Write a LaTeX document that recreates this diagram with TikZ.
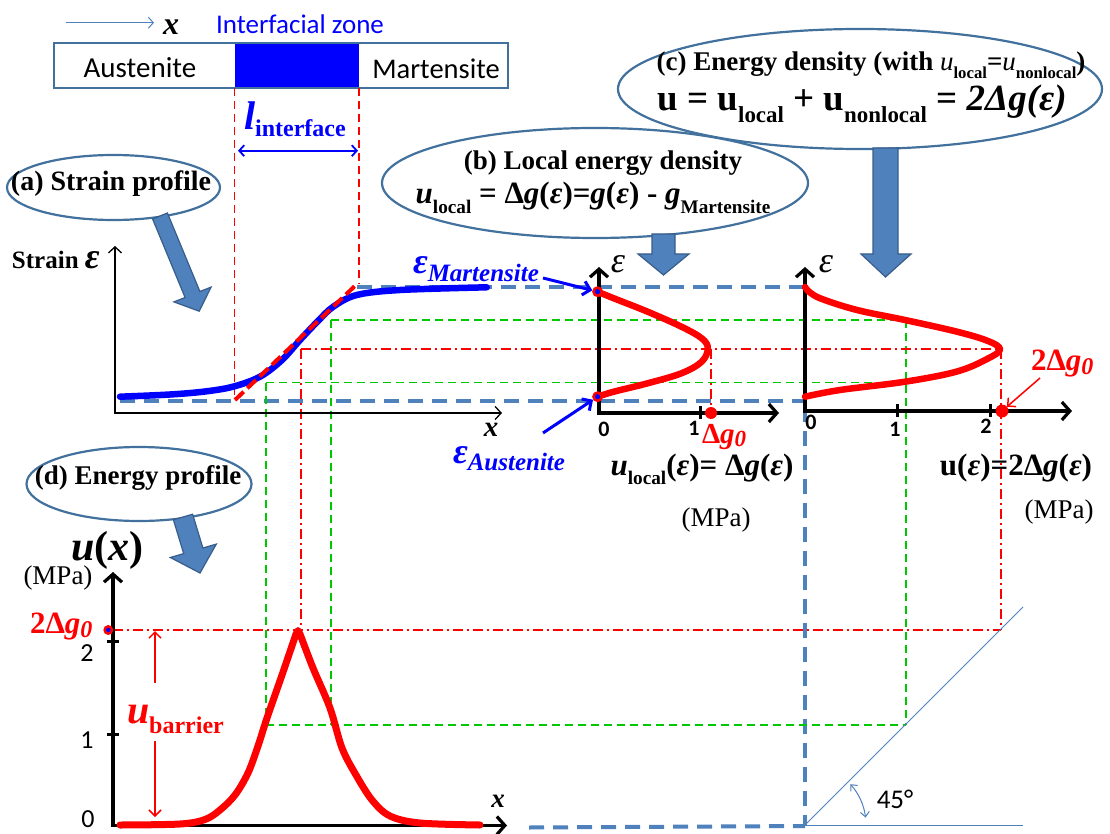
\documentclass[tikz,border=0pt]{standalone}
\usepackage{fontspec}
\usepackage{graphicx}
\setmainfont{Liberation Serif}
\newfontfamily\calib{Carlito}
\usetikzlibrary{arrows.meta,shapes.geometric}
\definecolor{ellc}{HTML}{41719C}
\definecolor{arrf}{HTML}{4F81BD}
\definecolor{arrd}{HTML}{385D8A}
\definecolor{zblue}{HTML}{0000FF}
\definecolor{gline}{HTML}{00C800}
\newcommand{\dn}[2][0.3em]{\raisebox{-#1}{\scalebox{0.62}{#2}}}
\newcommand{\fsz}[1]{\fontsize{#1}{#1}\selectfont}
\newcommand{\bi}[1]{{\bfseries\itshape #1}}
\begin{document}
\begin{tikzpicture}[x=1pt,y=-1pt,
  ellipsebox/.style={draw=ellc, line width=2.2pt, shape=ellipse, inner sep=0pt},
  blockarrow/.style={fill=arrf, draw=arrd, line width=1.2pt, line join=miter},
  bdash/.style={draw=arrf, line width=4pt, dash pattern=on 15pt off 9pt},
  gdash/.style={draw=gline, line width=1.6pt, dash pattern=on 8pt off 5pt},
  rdd/.style={draw=red, line width=1.8pt, dash pattern=on 10pt off 4pt on 2pt off 4pt},
  rdash/.style={draw=red, line width=1.6pt, dash pattern=on 8pt off 5pt},
  thinax/.style={draw=black, line width=1.3pt, {Straight Barb[length=6pt,width=13pt]}-{Straight Barb[length=6pt,width=13pt]}},
  thickax/.style={draw=black, line width=3.2pt, line join=miter, {Straight Barb[length=8pt,width=18pt]}-{Straight Barb[length=8pt,width=18pt]}},
  rcurve/.style={draw=red, line width=6.5pt, line cap=round, line join=round},
  lbl/.style={inner sep=0pt, outer sep=0pt},
  dotr/.style={circle, fill=red, inner sep=0pt, outer sep=0pt},
  tinyarr/.style={line width=1.5pt, -{Straight Barb[length=6pt,width=12pt]}},
]
\useasboundingbox (0,0) rectangle (1110,834);
\fill[white] (0,0) rectangle (1110,834);

% ---------------- top bar
\node[lbl, fill=zblue, minimum width=124.4pt, minimum height=45pt] (zone) at (296.8,65.8) {};
\node[lbl, draw=ellc, line width=2pt, minimum width=454.5pt, minimum height=45pt] (bar) at (280.75,65.8) {};
\node[lbl, font=\calib\fsz{29}] (aus) at (140,68) {Austenite};
\node[lbl, font=\calib\fsz{28.5}] (mar) at (436,69) {Martensite};
\node[lbl, font=\calib\fsz{27}, text=zblue] (izone) at (300,24) {Interfacial zone};
\coordinate (xa0) at (66,22.7);
\coordinate (xa1) at (154,22.7);
\draw[arrf, line width=1pt, -{Straight Barb[length=5pt,width=11pt]}] (xa0) -- (xa1);
\node[lbl, font=\fsz{32}\bfseries\itshape] (xtop) at (171,27) {x};

% interface lines
\coordinate (il0) at (234.6,88.3);
\coordinate (il1) at (234.6,399);
\coordinate (ir0) at (359,88.3);
\coordinate (ir1) at (359,284);
\draw[rdash] (il0) -- (il1);
\draw[rdash] (ir0) -- (ir1);
\node[lbl, anchor=base west, text=zblue] (lint) at (244,130) {\fsz{40}\bfseries\itshape l\upshape\raisebox{-7pt}{\fsz{24}interface}};
\coordinate (da0) at (238,150.7);
\coordinate (da1) at (358,150.7);
\draw[zblue, line width=1.8pt, {Straight Barb[length=5pt,width=11pt]}-{Straight Barb[length=5pt,width=11pt]}] (da0) -- (da1);

% ---------------- guide lines
\coordinate (bd0) at (120,400.5);
\coordinate (bd1) at (805,400.5);
\coordinate (bt0) at (357,287);
\coordinate (bt1) at (805,287);
\coordinate (bv1) at (805,826);
\coordinate (bb0) at (529,827.5);
\draw[bdash] (bd0) -- (bd1);
\draw[bdash] (bt0) -- (bt1);
\draw[bdash] (bt1) -- (bv1);
\draw[bdash] (bb0) -- (bv1);

\coordinate (g1a) at (331,320);
\coordinate (g1b) at (906,320);
\coordinate (g2a) at (266,382.5);
\coordinate (g2b) at (906,382.5);
\coordinate (g3a) at (266,725);
\coordinate (g3b) at (906,725);
\coordinate (g4a) at (331,725);
\draw[gdash] (g1a) -- (g1b);
\draw[gdash] (g2a) -- (g2b);
\draw[gdash] (g3a) -- (g3b);
\draw[gdash] (g2a) -- (g3a);
\draw[gdash] (g1a) -- (g4a);
\draw[gdash] (g1b) -- (g3b);

\coordinate (r1a) at (301,349);
\coordinate (r1b) at (1001,349);
\coordinate (r2a) at (301,626);
\coordinate (r3a) at (711,349);
\coordinate (r3b) at (711,413);
\coordinate (r4b) at (1001,630);
\coordinate (r5a) at (113,630);
\draw[rdd] (r1a) -- (r1b);
\draw[rdd] (r1a) -- (r2a);
\draw[rdd] (r3a) -- (r3b);
\draw[rdd] (r1b) -- (r4b);
\draw[rdd] (r5a) -- (r4b);

% 45 degree construction
\coordinate (o45) at (805,825);
\coordinate (t45) at (1023,607);
\coordinate (h45) at (1023,825);
\draw[arrf, line width=1pt] (o45) -- (t45);
\draw[arrf, line width=1pt] (o45) -- (h45);
\draw[arrf, line width=1pt, {Straight Barb[length=5pt,width=9pt]}-{Straight Barb[length=5pt,width=9pt]}] (o45) ++(-42:61) arc[start angle=-42, end angle=-7, radius=61];
\node[lbl, font=\calib\fsz{27}] (a45) at (895,799) {45°};

% ---------------- (a) strain profile
\node[ellipsebox, minimum width=213pt, minimum height=65pt] (ea) at (113.5,187.5) {};
\node[lbl, font=\fsz{28}\bfseries] (eat) at (111,184) {(a) Strain profile};
\draw[blockarrow] (167.4,213) -- (199.9,291.5) -- (211.1,287.1) -- (199.2,311.2) -- (173.9,301.9) -- (185.1,297.5) -- (152.6,219) -- cycle;

\coordinate (sa0) at (115,413);
\coordinate (say) at (115,246);
\coordinate (sax) at (502,413);
\draw[thinax] (say) -- (sa0) -- (sax);
\node[lbl, anchor=base west] (strain) at (12,269) {\fsz{25}\bfseries Strain \fsz{36}\itshape ε};
\node[lbl, font=\fsz{29}\bfseries\itshape] (xs) at (491,430) {x};

\draw[zblue, line width=6.5pt, line cap=round] plot[smooth, tension=0.55] coordinates {(120,396.7) (170,394.5) (205,391.5) (233,386.7) (260,376.7) (282,360) (300,340) (318,321) (333.3,306.7) (356.7,295) (400,290) (486.7,287.3)};
\coordinate (tg0) at (235,400);
\coordinate (tg1) at (358,283);
\draw[red, line width=4pt, dash pattern=on 12pt off 5pt] (tg0) -- (tg1);

\node[lbl, anchor=base west, text=zblue] (emlab) at (413,273) {\fsz{36}\bfseries\itshape ε\raisebox{-8pt}{\fsz{25}Martensite}};
\node[lbl, anchor=base west, text=zblue] (ealab) at (453,463) {\fsz{36}\bfseries\itshape ε\raisebox{-7pt}{\fsz{25}Austenite}};

% ---------------- (b) local energy density
\node[ellipsebox, minimum width=484pt, minimum height=120pt] (ec) at (860,89) {};
\node[ellipsebox, minimum width=426pt, minimum height=110pt] (eb) at (595,183) {};
\node[lbl, font=\fsz{27}\bfseries] (ebt1) at (603,163) {(b) Local energy density};
\node[lbl, anchor=base, font=\fsz{31}\bfseries] (ebt2) at (593,204) {\bi{u}\dn{local} = Δ\bi{g}(\bi{ε})=\bi{g}(\bi{ε}) - \bi{g}\dn{Martensite}};
\draw[blockarrow] (652,234) -- (675,234) -- (675,254) -- (689,254) -- (663.5,275) -- (638,254) -- (652,254) -- cycle;

\coordinate (b0) at (599,413);
\coordinate (by) at (599,267);
\coordinate (bx) at (779,413);
\draw[thickax] (by) -- (b0) -- (bx);
\draw[line width=3pt] (700,406) -- (700,419);
\node[lbl, font=\calib\fsz{22}\bfseries] (b0l) at (604,429) {0};
\node[lbl, font=\calib\fsz{22}\bfseries] (b1l) at (694,428) {1};
\node[lbl, font=\fsz{36}\itshape] (bel) at (618,264) {ε};
\draw[rcurve] plot[smooth, tension=0.6] coordinates {(597.6,291.7) (613.8,298.3) (647.6,311.7) (681.4,326.7) (701.7,338.3) (707.8,348.3) (701.7,361.7) (681.4,373.3) (647.6,383.3) (613.8,391.7) (597.6,396.7)};
\node[dotr, minimum size=11pt] (em) at (597.6,291.7) {};
\node[dotr, minimum size=11pt] (eaus) at (597.6,396.7) {};
\fill[zblue] (em) circle[radius=2.6pt];
\fill[zblue] (eaus) circle[radius=2.6pt];
\coordinate (emA) at (543,278);
\coordinate (eaA) at (543,433);
\draw[zblue, line width=3pt, -{Straight Barb[length=7pt,width=14pt]}] (emA) -- (em);
\draw[zblue, line width=3pt, -{Straight Barb[length=7pt,width=14pt]}] (eaA) -- (eaus);
\node[dotr, minimum size=12pt] (bdot) at (711,413) {};
\node[lbl, anchor=base west, text=red, font=\fsz{29}\bfseries] (bdg) at (702,443) {Δ\itshape g\raisebox{-3pt}{\fsz{23}0}};
\node[lbl, anchor=base, font=\fsz{31}\bfseries] (bul) at (702,475) {\bi{u}\dn{local}(\bi{ε})= Δ\bi{g}(\bi{ε})};
\node[lbl, font=\fsz{27}] (bmpa) at (716,520) {(MPa)};

% ---------------- (c) energy density
\node[lbl, font=\fsz{27}\bfseries] (ect1) at (871,65) {(c) Energy density (with {\mdseries\itshape u}\dn{local}={\mdseries\itshape u}\dn{nonlocal})};
\node[lbl, anchor=base, font=\fsz{37}\bfseries] (ect2) at (862,111) {u = u\dn{local} + u\dn{nonlocal} = \itshape 2Δg(ε)};
\draw[blockarrow] (873,148) -- (898,148) -- (898,254) -- (911,254) -- (885.5,277) -- (861,254) -- (873,254) -- cycle;

\coordinate (c0) at (805,411);
\coordinate (cy) at (805,267);
\coordinate (cx) at (1072,411);
\draw[thickax] (cy) -- (c0) -- (cx);
\draw[line width=3pt] (897,404) -- (897,417);
\draw[line width=3pt] (990,404) -- (990,417);
\node[lbl, font=\calib\fsz{22}\bfseries] (c0l) at (811,422) {0};
\node[lbl, font=\calib\fsz{22}\bfseries] (c1l) at (895,429) {1};
\node[lbl, font=\calib\fsz{22}\bfseries] (c2l) at (986,426) {2};
\node[lbl, font=\fsz{36}\itshape] (cel) at (826,264) {ε};
\draw[rcurve] plot[smooth, tension=0.6] coordinates {(805,287) (810,292.5) (822,299) (857,310) (905,320) (957,331.7) (988,341) (1000,349.3) (988,358.5) (957,371.5) (905,381.7) (840,390) (805,396.7)};
\node[dotr, minimum size=13pt] (cdot) at (1002,411) {};
\node[lbl, anchor=base west, text=red, font=\fsz{31}\bfseries] (cdg) at (1031,370) {2Δ\itshape g\raisebox{-4pt}{\fsz{24}0}};
\coordinate (cdA) at (1040,378);
\draw[red, tinyarr] (cdA) -- (cdot);
\node[lbl, anchor=base, font=\fsz{31}\bfseries] (cul) at (1016,475) {u(\bi{ε})=2Δ\bi{g}(\bi{ε})};
\node[lbl, font=\fsz{27}] (cmpa) at (1059,512) {(MPa)};

% ---------------- (d) energy profile
\node[ellipsebox, minimum width=225pt, minimum height=74pt] (ed) at (139,484) {};
\node[lbl, font=\fsz{27}\bfseries] (edt) at (138,478) {(d) Energy profile};
\draw[blockarrow] (192.6,514.2) -- (202.9,548) -- (216.3,544.1) -- (200,573) -- (170.3,557.5) -- (183.7,553.6) -- (173.4,519.8) -- cycle;

\coordinate (d0) at (113,825.5);
\coordinate (dy) at (113,572);
\coordinate (dx) at (507,825.5);
\draw[thickax] (dy) -- (d0) -- (dx);
\draw[line width=3pt] (107,734) -- (119,734);
\draw[line width=3pt] (107,641) -- (119,641);
\node[lbl, font=\calib\fsz{26}] (d0l) at (88,819) {0};
\node[lbl, font=\calib\fsz{26}] (d1l) at (87,740) {1};
\node[lbl, font=\calib\fsz{26}] (d2l) at (87,653) {2};
\node[lbl, font=\fsz{27}\bfseries\itshape] (xd) at (498,801) {x};
\node[lbl, anchor=base west, font=\fsz{42}\bfseries] (ux) at (71,560) {\itshape u\upshape(\itshape x\upshape)};
\node[lbl, font=\fsz{27}] (dmpa) at (58,578) {(MPa)};
\node[lbl, anchor=base west, text=red, font=\fsz{31}\bfseries] (ddg) at (30,633) {2Δ\itshape g\raisebox{-4pt}{\fsz{24}0}};

\draw[draw=red, line width=7pt, line cap=round, line join=round] plot[smooth, tension=0.55] coordinates {(120,825) (180,824) (205,819.5) (220,810) (235,795) (248,773) (258,746) (267,718) (282,675) (296,634)} -- (298,630.5) -- (300,634) -- plot[smooth, tension=0.55] coordinates {(300,634) (313,668) (330,708) (342,748) (356,775) (372,800) (390,816) (420,823) (480,825)};
\node[dotr, minimum size=10pt] (ddot) at (108.3,630) {};
\fill[zblue] (ddot) circle[radius=2.2pt];

\coordinate (ub0) at (155,683);
\coordinate (ub1) at (155,631);
\coordinate (ub2) at (155,741);
\coordinate (ub3) at (155,817);
\draw[red, tinyarr] (ub0) -- (ub1);
\draw[red, tinyarr] (ub2) -- (ub3);
\node[lbl, anchor=base west, text=red, font=\bfseries] (ubar) at (127,723) {\fsz{40}\itshape u\upshape\raisebox{-10pt}{\fsz{24}barrier}};
\end{tikzpicture}
\end{document}
